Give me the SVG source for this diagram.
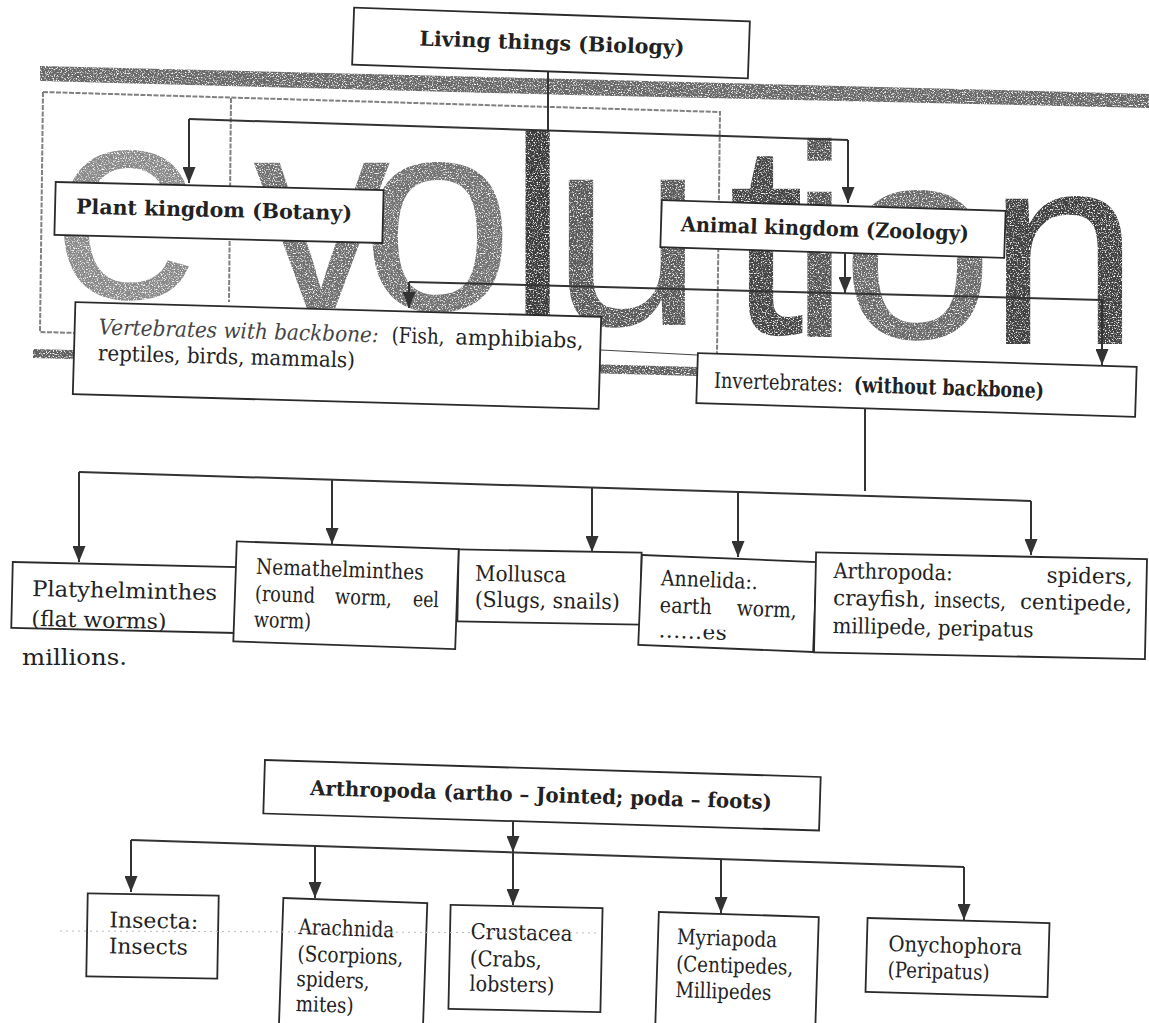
<svg xmlns="http://www.w3.org/2000/svg" width="1149" height="1023" viewBox="0 0 1149 1023">
<defs>
<style>
.box{fill:#fff;stroke:#2a2a2a;stroke-width:1.8}
.t{font-family:"DejaVu Serif","Liberation Serif",serif;font-size:21.5px;fill:#222}
.b{font-weight:bold;font-size:20.5px}
.i{font-style:italic;fill:#444}
.c{stroke:#333;stroke-width:2;fill:none}
.a{marker-end:url(#ah)}
.frame{stroke:#808080;stroke-width:2;fill:none;stroke-dasharray:5 1.5}
</style>
<marker id="ah" markerUnits="userSpaceOnUse" markerWidth="16" markerHeight="13" refX="16" refY="6.5" orient="auto">
<path d="M0,0 L16,6.5 L0,13 z" fill="#333"/>
</marker>
<filter id="grain" x="-5%" y="-5%" width="110%" height="110%">
<feTurbulence type="fractalNoise" baseFrequency="0.75" numOctaves="2" seed="7" result="noise"/>
<feColorMatrix in="noise" type="matrix" values="0 0 0 0 0  0 0 0 0 0  0 0 0 0 0  4 0 0 0 -1.0" result="mask"/>
<feComposite in="SourceGraphic" in2="mask" operator="in"/>
</filter>
<clipPath id="clipPlaty"><rect x="12" y="564.5" width="225" height="66"/></clipPath>
<clipPath id="clipAnn"><rect x="640" y="630" width="175" height="18.5"/></clipPath>
</defs>

<g id="background">
<polygon points="40,66 570,79 1149,94 1149,108 570,95 40,81" fill="#686868" filter="url(#grain)"/>
<text x="52 253 361 507 551 728 789 841 987" y="298 308 310 330 325 334 337 338 344" font-family="Liberation Sans, Arial, sans-serif" font-size="275" filter="url(#grain)"><tspan fill="#8a8a8a">e</tspan><tspan fill="#707070">v</tspan><tspan fill="#727272">o</tspan><tspan fill="#3a3a3a">l</tspan><tspan fill="#5a5a5a">u</tspan><tspan fill="#444">t</tspan><tspan fill="#555">i</tspan><tspan fill="#6a6a6a">o</tspan><tspan fill="#404040">n</tspan></text>
<path class="frame" d="M43,92 L720,112 L717,353"/>
<path class="frame" d="M43,92 L40,332 L76,333"/>
<path class="frame" d="M231,98 L229,302"/>
<polygon points="33,349 697,367 697,376 33,358" fill="#606060" filter="url(#grain)"/>
<path d="M601,350 L697,355" stroke="#444" stroke-width="1.2" fill="none"/>
</g>

<g id="nodes">
<g id="n-living" transform="rotate(2 551 43)">
<rect class="box" x="353" y="14.5" width="396" height="57"/>
<text class="t b" x="552" y="50" text-anchor="middle" textLength="265" lengthAdjust="spacingAndGlyphs">Living things (Biology)</text>
</g>
<g id="n-plant" transform="rotate(1.4 219 212.5)">
<rect class="box" x="55" y="186" width="328" height="53"/>
<text class="t b" x="76" y="217" textLength="276" lengthAdjust="spacingAndGlyphs">Plant kingdom (Botany)</text>
</g>
<g id="n-animal" transform="rotate(1.8 833 229)">
<rect class="box" x="661" y="205.5" width="344" height="47"/>
<text class="t b" x="681" y="236" textLength="288" lengthAdjust="spacingAndGlyphs">Animal kingdom (Zoology)</text>
</g>
<g id="n-vertebrates" transform="rotate(1.6 337 355.5)">
<rect class="box" x="74" y="309.5" width="526" height="92"/>
<text class="t" y="341"><tspan class="i" x="98" textLength="280" lengthAdjust="spacingAndGlyphs">Vertebrates with backbone:</tspan><tspan x="391" textLength="53" lengthAdjust="spacingAndGlyphs">(Fish,</tspan><tspan x="455" textLength="128" lengthAdjust="spacingAndGlyphs">amphibiabs,</tspan></text>
<text class="t" x="98" y="367" textLength="257" lengthAdjust="spacingAndGlyphs">reptiles, birds, mammals)</text>
</g>
<g id="n-invertebrates" transform="rotate(1.8 916.5 385)">
<rect class="box" x="697" y="360" width="439" height="50"/>
<text class="t" y="394"><tspan x="714" textLength="129" lengthAdjust="spacingAndGlyphs">Invertebrates:</tspan><tspan x="854" font-weight="bold" textLength="190" lengthAdjust="spacingAndGlyphs">(without backbone)</tspan></text>
</g>
<g id="n-platy" transform="rotate(1.3 124.5 597.5)">
<rect class="box" x="12" y="564.5" width="225" height="66"/>
<g clip-path="url(#clipPlaty)">
<text class="t" x="32" y="598" font-size="23" textLength="185" lengthAdjust="spacingAndGlyphs">Platyhelminthes</text>
<text class="t" x="32" y="628" font-size="23" textLength="135" lengthAdjust="spacingAndGlyphs">(flat worms)</text>
</g>
</g>
<g id="n-mollusca" transform="rotate(1 549.5 587)">
<rect class="box" x="458" y="551" width="183" height="72"/>
<text class="t" x="475" y="582" textLength="91" lengthAdjust="spacingAndGlyphs">Mollusca</text>
<text class="t" x="475" y="608" textLength="145" lengthAdjust="spacingAndGlyphs">(Slugs, snails)</text>
</g>
<g id="n-nemathelminthes" transform="rotate(2 346 595.25)">
<rect class="box" x="235" y="545.25" width="222" height="100"/>
<text class="t" x="255" y="577" textLength="168" lengthAdjust="spacingAndGlyphs">Nemathelminthes</text>
<text class="t" y="604"><tspan x="255" textLength="60" lengthAdjust="spacingAndGlyphs">(round</tspan><tspan x="335" textLength="57" lengthAdjust="spacingAndGlyphs">worm,</tspan><tspan x="413" textLength="26" lengthAdjust="spacingAndGlyphs">eel</tspan></text>
<text class="t" x="255" y="630" textLength="57" lengthAdjust="spacingAndGlyphs">worm)</text>
</g>
<g id="n-annelida" transform="rotate(2.3 727.5 603.5)">
<rect class="box" x="640" y="558.5" width="175" height="90"/>
<text class="t" x="660" y="588" textLength="97" lengthAdjust="spacingAndGlyphs">Annelida:.</text>
<text class="t" y="615"><tspan x="660" textLength="52" lengthAdjust="spacingAndGlyphs">earth</tspan><tspan x="737" textLength="60" lengthAdjust="spacingAndGlyphs">worm,</tspan></text>
<g clip-path="url(#clipAnn)"><text class="t" x="660" y="640" font-size="17" textLength="68">......es</text></g>
</g>
<g id="n-arthropoda-row" transform="rotate(1.2 980.5 605.75)">
<rect class="box" x="815" y="555.75" width="331" height="100"/>
<text class="t" y="581" fill="#111"><tspan x="833" textLength="119" lengthAdjust="spacingAndGlyphs">Arthropoda:</tspan><tspan x="1046" textLength="86" lengthAdjust="spacingAndGlyphs">spiders,</tspan></text>
<text class="t" y="608" fill="#111"><tspan x="833" textLength="93" lengthAdjust="spacingAndGlyphs">crayfish,</tspan><tspan x="934" textLength="72" lengthAdjust="spacingAndGlyphs">insects,</tspan><tspan x="1020" textLength="112" lengthAdjust="spacingAndGlyphs">centipede,</tspan></text>
<text class="t" x="833" y="636" textLength="201" lengthAdjust="spacingAndGlyphs" fill="#111">millipede, peripatus</text>
</g>
<text id="t-millions" class="t" x="22" y="665" textLength="105" lengthAdjust="spacingAndGlyphs">millions.</text>
<g id="n-arthropoda-title" transform="rotate(1.75 542 795.25)">
<rect class="box" x="264" y="768.5" width="556" height="53.5"/>
<text class="t b" x="541" y="802" text-anchor="middle" textLength="462" lengthAdjust="spacingAndGlyphs">Arthropoda (artho – Jointed; poda – foots)</text>
</g>
<g id="n-insecta" transform="rotate(1 152.5 936)">
<rect class="box" x="87" y="894.5" width="131" height="83"/>
<text class="t" x="109" y="928" textLength="89" lengthAdjust="spacingAndGlyphs">Insecta:</text>
<text class="t" x="109" y="954" textLength="79" lengthAdjust="spacingAndGlyphs">Insects</text>
</g>
<g id="n-arachnida" transform="rotate(2 353 967.5)">
<rect class="box" x="281" y="900.5" width="144" height="134"/>
<text class="t" x="297" y="936" textLength="96" lengthAdjust="spacingAndGlyphs">Arachnida</text>
<text class="t" x="297" y="963" textLength="106" lengthAdjust="spacingAndGlyphs">(Scorpions,</text>
<text class="t" x="297" y="988" textLength="73" lengthAdjust="spacingAndGlyphs">spiders,</text>
<text class="t" x="297" y="1013" textLength="58" lengthAdjust="spacingAndGlyphs">mites)</text>
</g>
<g id="n-crustacea" transform="rotate(1.2 525.5 958.5)">
<rect class="box" x="449.5" y="906.5" width="152" height="104"/>
<text class="t" x="470" y="940" textLength="102" lengthAdjust="spacingAndGlyphs">Crustacea</text>
<text class="t" x="470" y="967" textLength="72" lengthAdjust="spacingAndGlyphs">(Crabs,</text>
<text class="t" x="470" y="992" textLength="85" lengthAdjust="spacingAndGlyphs">lobsters)</text>
</g>
<g id="n-myriapoda" transform="rotate(1.8 737 972)">
<rect class="box" x="657" y="914.5" width="160" height="115"/>
<text class="t" x="676" y="946" textLength="100" lengthAdjust="spacingAndGlyphs">Myriapoda</text>
<text class="t" x="676" y="973" textLength="117" lengthAdjust="spacingAndGlyphs">(Centipedes,</text>
<text class="t" x="676" y="999" textLength="96" lengthAdjust="spacingAndGlyphs">Millipedes</text>
</g>
<g id="n-onychophora" transform="rotate(1.6 957.5 957.5)">
<rect class="box" x="866.5" y="920.5" width="182" height="74"/>
<text class="t" x="888" y="953" textLength="134" lengthAdjust="spacingAndGlyphs">Onychophora</text>
<text class="t" x="888" y="979" textLength="102" lengthAdjust="spacingAndGlyphs">(Peripatus)</text>
</g>
</g>

<g id="connectors">
<path class="c" d="M548,72 L548,130"/>
<path class="c" d="M189,119 L848,140"/>
<path class="c a" d="M189,119 L189,183"/>
<path class="c a" d="M848,140 L848,203"/>
<path class="c a" d="M845,253 L845,293"/>
<path class="c" d="M409,282 L1102,300"/>
<path class="c a" d="M409,282 L409,308"/>
<path class="c a" d="M1102,300 L1102,365"/>
<path class="c" d="M865,408 L865,491"/>
<path class="c" d="M79,472 L1031,501"/>
<path class="c a" d="M79,472 L79,562"/>
<path class="c a" d="M332,480 L332,544"/>
<path class="c a" d="M592,488 L592,552"/>
<path class="c a" d="M738,492 L738,557"/>
<path class="c a" d="M1031,501 L1031,555"/>
<path class="c a" d="M513,821 L513,852"/>
<path class="c" d="M131,840 L964,867"/>
<path class="c a" d="M513,852 L513,905"/>
<path class="c a" d="M131,840 L131,892"/>
<path class="c a" d="M315,846 L315,898"/>
<path class="c a" d="M721,859 L721,913"/>
<path class="c a" d="M964,867 L964,920"/>
</g>
<path d="M60,931 L600,933" stroke="#bbb" stroke-width="1" stroke-dasharray="2 4" fill="none"/>
</svg>
